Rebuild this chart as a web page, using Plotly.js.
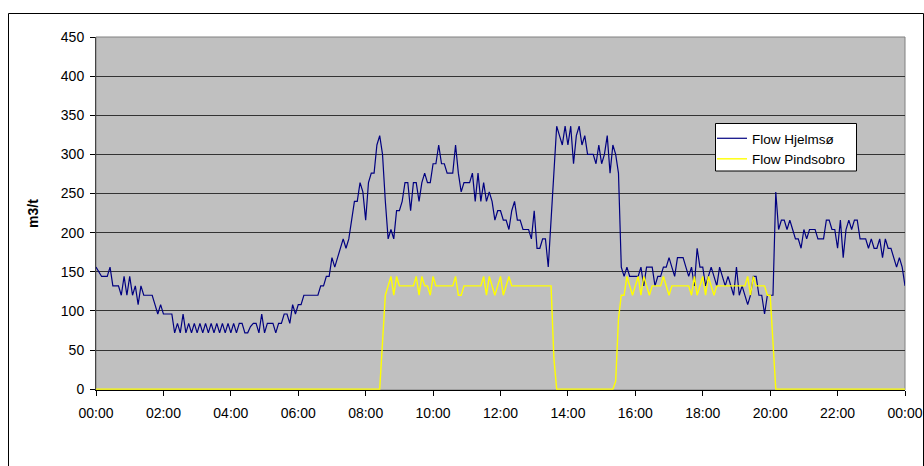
<!DOCTYPE html>
<html>
<head>
<meta charset="utf-8">
<script src="https://cdn.plot.ly/plotly-3.0.1.min.js"></script>
<style>
html,body{margin:0;padding:0;background:#fff;}
#chart{width:924px;height:466px;}
</style>
</head>
<body>
<div id="chart"></div>
<script>
// 5-minute samples, 00:00 .. 24:00
const STEP_MIN = 5;

const flowHjelmso = [
  156,150,144,144,144,156,132,132,132,120,144,120,
  144,120,132,108,132,120,120,120,120,108,96,108,
  96,96,96,96,72,84,72,96,72,84,72,84,
  72,84,72,84,72,84,72,84,72,84,72,84,
  72,84,72,84,84,72,72,80,84,84,72,96,
  72,84,84,84,72,84,84,96,96,84,108,96,
  108,108,120,120,120,120,120,120,132,132,144,144,
  168,156,168,180,192,180,192,216,240,240,264,252,
  216,264,276,276,312,324,300,240,192,204,192,228,
  228,240,264,264,228,264,264,240,264,276,264,264,
  288,288,312,288,288,276,276,276,312,276,252,264,
  264,264,276,240,276,240,264,240,252,240,216,228,
  228,216,216,204,228,240,216,216,204,204,204,192,
  228,180,180,192,192,156,216,264,336,324,312,336,
  312,336,288,324,336,312,324,300,300,300,288,312,
  288,300,324,276,312,300,276,156,144,156,144,144,
  144,144,156,132,156,156,156,132,144,144,156,156,
  168,156,144,168,168,168,156,144,156,132,180,156,
  156,132,144,156,144,132,156,144,132,144,132,120,
  156,120,132,120,108,120,144,144,120,120,96,120,
  120,120,252,204,216,216,204,216,204,192,192,180,
  204,192,204,204,204,192,192,192,216,216,204,204,
  180,216,168,204,216,204,216,216,192,192,192,180,
  192,180,180,192,168,192,180,180,168,156,168,156,
  132
];

const flowPindsobro = [
  0,0,0,0,0,0,0,0,0,0,0,0,
  0,0,0,0,0,0,0,0,0,0,0,0,
  0,0,0,0,0,0,0,0,0,0,0,0,
  0,0,0,0,0,0,0,0,0,0,0,0,
  0,0,0,0,0,0,0,0,0,0,0,0,
  0,0,0,0,0,0,0,0,0,0,0,0,
  0,0,0,0,0,0,0,0,0,0,0,0,
  0,0,0,0,0,0,0,0,0,0,0,0,
  0,0,0,0,0,0,60,120,132,144,120,144,
  132,132,132,132,132,132,144,120,144,132,132,120,
  144,132,132,132,132,132,132,132,144,120,120,132,
  132,132,132,132,132,132,144,120,144,132,120,132,
  144,120,132,144,132,132,132,132,132,132,132,132,
  132,132,132,132,132,132,132,40,0,0,0,0,
  0,0,0,0,0,0,0,0,0,0,0,0,
  0,0,0,0,0,10,90,120,120,144,132,120,
  132,144,120,144,132,120,132,132,132,132,144,132,
  120,132,132,132,132,132,132,132,120,144,120,132,
  144,120,144,132,120,132,132,132,132,132,132,132,
  132,132,132,132,144,120,144,132,132,132,132,120,
  120,60,0,0,0,0,0,0,0,0,0,0,
  0,0,0,0,0,0,0,0,0,0,0,0,
  0,0,0,0,0,0,0,0,0,0,0,0,
  0,0,0,0,0,0,0,0,0,0,0,0,
  0
];

const tickVals = [0,120,240,360,480,600,720,840,960,1080,1200,1320,1440];
const tickLabels = ["00:00","02:00","04:00","06:00","08:00","10:00","12:00",
                    "14:00","16:00","18:00","20:00","22:00","00:00"];
const seriesNames = ["Flow Hjelmsø","Flow Pindsobro"];
const yTitle = "m3/t";

const minutes = flowHjelmso.map((_, i) => i * STEP_MIN);

const FONT = "Liberation Sans, Arial, sans-serif";

const W = 924, H = 466;
const M = {l:96, r:19, t:37, b:76};
const pw = W - M.l - M.r, ph = H - M.t - M.b;
const px = x => (x - M.l) / pw;
const py = y => (H - M.b - y) / ph;

const traces = [
  {x: minutes, y: flowHjelmso, name: seriesNames[0], type:'scatter', mode:'lines',
   line:{color:'#000080', width:1.2}},
  {x: minutes, y: flowPindsobro, name: seriesNames[1], type:'scatter', mode:'lines',
   line:{color:'#FFFF00', width:1.4}}
];

const layout = {
  width: W, height: H,
  margin: M,
  paper_bgcolor:'#ffffff',
  plot_bgcolor:'#C0C0C0',
  font:{family:FONT, size:14, color:'#000'},
  showlegend:true,
  legend:{x:px(712), y:py(123), xanchor:'left', yanchor:'top',
          bgcolor:'rgba(0,0,0,0)', borderwidth:0,
          font:{family:FONT, size:13.5, color:'#000'}},
  xaxis:{type:'linear', range:[0,1440], tickvals:tickVals, ticktext:tickLabels,
         showgrid:false, zeroline:false, showline:true, linecolor:'#000', linewidth:1,
         layer:'below traces',
         ticks:'outside', ticklen:5, tickcolor:'#000', ticklabelstandoff:5,
         tickfont:{family:FONT, size:14, color:'#000'}},
  yaxis:{range:[-1.1,450], tickvals:[0,50,100,150,200,250,300,350,400,450],
         showgrid:true, gridcolor:'#333333', gridwidth:1, zeroline:false,
         showline:true, linecolor:'#444', linewidth:1,
         ticks:'outside', ticklen:5, tickcolor:'#000', ticklabelstandoff:3,
         tickfont:{family:FONT, size:14, color:'#000'},
         title:{text:yTitle, font:{family:FONT, size:14, color:'#000', weight:'bold'}, standoff:18}},
  shapes:[
    {type:'rect', xref:'paper', yref:'paper', x0:0, x1:1, y0:0, y1:1,
     line:{color:'#808080', width:1}, layer:'below'},
    {type:'rect', xref:'paper', yref:'paper', x0:px(8.5), x1:px(923.5), y0:py(480), y1:py(13.5),
     line:{color:'#000', width:1}, fillcolor:'rgba(0,0,0,0)', layer:'below'},
    {type:'rect', xref:'paper', yref:'paper', x0:px(715.5), x1:px(856.5), y0:py(171), y1:py(123.5),
     line:{color:'#000', width:1}, fillcolor:'#ffffff', layer:'above'}
  ]
};

Plotly.newPlot('chart', traces, layout, {staticPlot:true, displayModeBar:false});
</script>
</body>
</html>
